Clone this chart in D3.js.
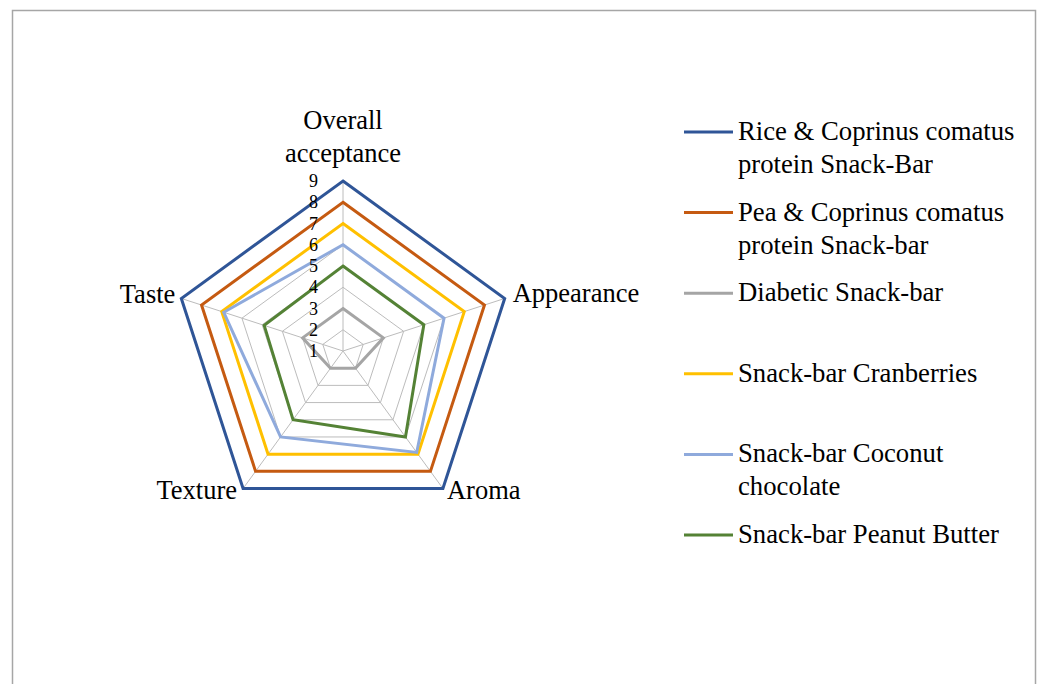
<!DOCTYPE html>
<html>
<head>
<meta charset="utf-8">
<script src="https://cdn.jsdelivr.net/npm/d3@7"></script>
<style>
  body { margin: 0; background: #fff; }
  svg { display: block; }
  text { font-family: "Liberation Serif", "Times New Roman", serif; fill: #000; }
</style>
</head>
<body>
<svg id="chart" width="1041" height="684"></svg>
<script>
// categories, clockwise from the top
var axes = [["Overall", "acceptance"], ["Appearance"], ["Aroma"], ["Texture"], ["Taste"]];
var ticks = [1, 2, 3, 4, 5, 6, 7, 8, 9];

var seriesNames = [
    ["Rice & Coprinus comatus", "protein Snack-Bar"],
    ["Pea & Coprinus comatus", "protein Snack-bar"],
    ["Diabetic Snack-bar"],
    ["Snack-bar Cranberries"],
    ["Snack-bar Coconut", "chocolate"],
    ["Snack-bar Peanut Butter"]
];
var riceBar = [9, 9, 9, 9, 9];
var peaBar = [8, 8, 8, 8, 8];
var diabeticBar = [3, 3, 2, 2, 3];
var cranberryBar = [7, 7, 7, 7, 7];
var coconutBar = [6, 6, 6.9, 6, 6.9];
var peanutBar = [5, 5, 6, 5, 4.9];
var seriesValues = [riceBar, peaBar, diabeticBar, cranberryBar, coconutBar, peanutBar];
var seriesColors = ["#2f5597", "#c55a11", "#a5a5a5", "#ffc000", "#8faadc", "#548235"];

var svg = d3.select("#chart");

// outer frame
svg.append("rect")
    .attr("x", 12.5)
    .attr("y", 10.5)
    .attr("width", 1023)
    .attr("height", 700)
    .attr("fill", "none")
    .attr("stroke", "#a6a6a6")
    .attr("stroke-width", 1.5);

var cx = 343, cy = 351;
var r = d3.scaleLinear().domain([1, 9]).range([0, 170]);
var angle = d3.scalePoint().domain(d3.range(axes.length)).range([0, 2 * Math.PI * (axes.length - 1) / axes.length]);

var g = svg.append("g").attr("transform", "translate(" + cx + "," + cy + ")");

function pt(i, v) {
    var a = angle(i) - Math.PI / 2;
    return [r(v) * Math.cos(a), r(v) * Math.sin(a)];
}

var ring = d3.line().curve(d3.curveLinearClosed);

// grid rings
g.selectAll(".ring")
    .data(ticks.slice(1))
    .enter()
    .append("path")
    .attr("d", function(t) {
        return ring(axes.map(function(a, i) { return pt(i, t); }));
    })
    .attr("fill", "none")
    .attr("stroke", "#bcbcbc")
    .attr("stroke-width", 1);

// spokes
g.selectAll(".spoke")
    .data(axes)
    .enter()
    .append("line")
    .attr("x1", 0).attr("y1", 0)
    .attr("x2", function(d, i) { return pt(i, 9)[0]; })
    .attr("y2", function(d, i) { return pt(i, 9)[1]; })
    .attr("stroke", "#bcbcbc")
    .attr("stroke-width", 1);

// series
g.selectAll(".series")
    .data(seriesValues)
    .enter()
    .append("path")
    .attr("d", function(vals) {
        return ring(vals.map(function(v, i) { return pt(i, v); }));
    })
    .attr("fill", "none")
    .attr("stroke", function(d, i) { return seriesColors[i]; })
    .attr("stroke-width", 3)
    .attr("stroke-linejoin", "miter");

// tick labels (kept small enough not to collide)
g.selectAll(".tick")
    .data(ticks)
    .enter()
    .append("text")
    .attr("x", -25)
    .attr("y", function(t) { return -r(t) + 6; })
    .attr("text-anchor", "end")
    .attr("font-size", "18px")
    .text(function(t) { return t; });

// axis labels: offsets from the outer vertex
var labelPos = [
    { dx: 0, dy: -52, anchor: "middle" },
    { dx: 8, dy: 4, anchor: "start" },
    { dx: 4, dy: 10, anchor: "start" },
    { dx: -6, dy: 10, anchor: "end" },
    { dx: -6, dy: 5, anchor: "end" }
];
axes.forEach(function(lines, i) {
    var p = pt(i, 9);
    var t = g.append("text")
        .attr("text-anchor", labelPos[i].anchor)
        .attr("font-size", "26.5px");
    lines.forEach(function(line, k) {
        t.append("tspan")
            .attr("x", p[0] + labelPos[i].dx)
            .attr("y", p[1] + labelPos[i].dy + k * 33)
            .text(line);
    });
});

// legend
var legend = svg.append("g").attr("transform", "translate(684,132)");
var item = legend.selectAll(".item")
    .data(seriesNames)
    .enter()
    .append("g")
    .attr("transform", function(d, i) { return "translate(0," + (i * 80.6) + ")"; });

item.append("line")
    .attr("x1", 0).attr("x2", 49)
    .attr("y1", 0).attr("y2", 0)
    .attr("stroke", function(d, i) { return seriesColors[i]; })
    .attr("stroke-width", 3);

item.append("text")
    .attr("font-size", "26.7px")
    .selectAll("tspan")
    .data(function(d) { return d; })
    .enter()
    .append("tspan")
    .attr("x", 54)
    .attr("y", function(d, k) { return 8 + k * 33; })
    .text(function(d) { return d; });
</script>
</body>
</html>
